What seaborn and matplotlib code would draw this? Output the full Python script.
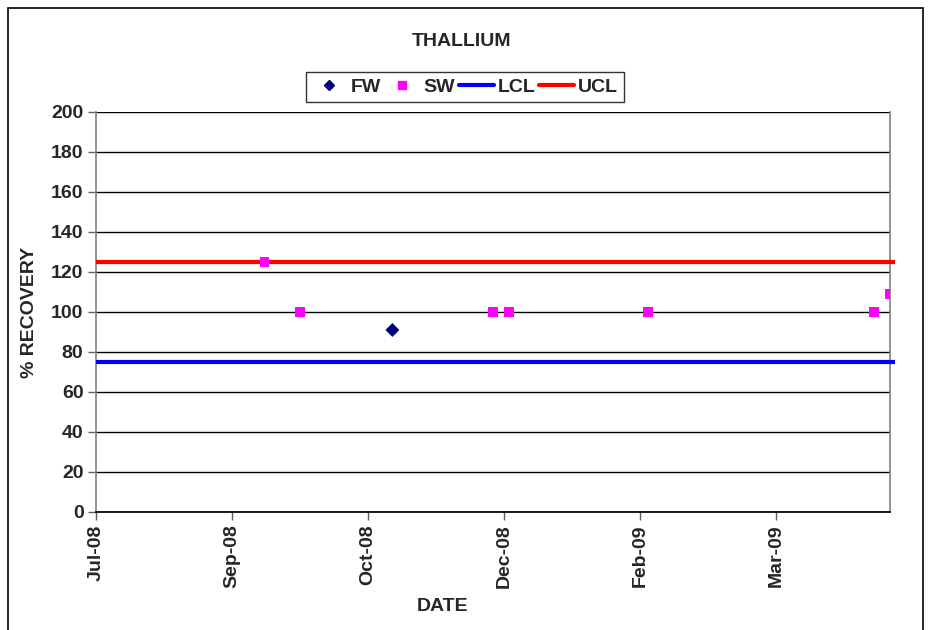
import matplotlib
matplotlib.use("Agg")
import matplotlib.pyplot as plt
import matplotlib.dates as mdates
import seaborn as sns
import pandas as pd
import numpy as np
from matplotlib.patches import Rectangle
from matplotlib.lines import Line2D

sns.set_theme(style="white")
plt.rcParams['font.family'] = ['Liberation Sans', 'DejaVu Sans']
plt.rcParams['font.weight'] = 'bold'
plt.rcParams['axes.labelweight'] = 'bold'

# Data
fw_dates = ["2008-11-06"]
fw_values = [91]
sw_dates = ["2008-09-20", "2008-10-03", "2008-12-13", "2008-12-19",
            "2009-02-08", "2009-05-02", "2009-05-08"]
sw_values = [125, 100, 100, 100, 100, 100, 109]
lcl_value = 75
ucl_value = 125
tick_dates = ["2008-07-20", "2008-09-08", "2008-10-28", "2008-12-17",
              "2009-02-05", "2009-03-27"]
x_start, x_end = "2008-07-20", "2009-05-08"

df = pd.DataFrame({
    "date": pd.to_datetime(fw_dates + sw_dates),
    "value": fw_values + sw_values,
    "series": ["FW"] * len(fw_dates) + ["SW"] * len(sw_dates),
})

FS = 14

fig = plt.figure(figsize=(9.34, 6.3), dpi=100)
ax = fig.add_axes([96/934, 118/630, (890-96)/934, 400/630])

# control limits
for val, col, lab in [(lcl_value, "#0000FF", "LCL"), (ucl_value, "#FF0000", "UCL")]:
    ax.plot(pd.to_datetime([x_start, "2009-05-10"]), [val, val], color=col, lw=3,
            label=lab, clip_on=False, zorder=3, solid_capstyle="butt")

sns.scatterplot(data=df, x="date", y="value", hue="series", style="series",
                markers={"FW": "D", "SW": "s"},
                palette={"FW": "#000080", "SW": "#FF00FF"},
                s=50, edgecolor="none", ax=ax, zorder=4, legend=False)

ax.set_xlim(pd.Timestamp(x_start), pd.Timestamp(x_end))
ax.set_ylim(0, 200)
ax.set_yticks(np.arange(0, 201, 20))
ax.set_xticks(pd.to_datetime(tick_dates))
ax.xaxis.set_major_formatter(mdates.DateFormatter("%b-%y"))
ax.yaxis.grid(True, color="black", lw=1)
ax.xaxis.grid(False)
ax.set_axisbelow(True)

for s in ["left", "right", "top"]:
    ax.spines[s].set_color("#808080")
    ax.spines[s].set_linewidth(1.2)
ax.spines["bottom"].set_color("black")
ax.spines["top"].set_visible(False)

ax.tick_params(axis="y", direction="out", length=6, width=1, color="#606060",
               labelsize=FS, pad=3, left=True)
ax.tick_params(axis="x", direction="out", length=6, width=1, color="#606060",
               labelsize=FS, pad=3, bottom=True, labelrotation=90)
for lab in ax.get_xticklabels() + ax.get_yticklabels():
    lab.set_fontweight("bold")

ax.set_xlabel("DATE", fontsize=FS, fontweight="bold")
ax.set_ylabel("% RECOVERY", fontsize=FS, fontweight="bold")
ax.xaxis.set_label_coords((443-96)/794, -(598-512)/400)
ax.yaxis.set_label_coords(-(96-38)/794, 0.5)

fig.text(461/934, 1-42/630, "THALLIUM", ha="center", va="center",
         fontsize=FS, fontweight="bold")

handles = [
    Line2D([], [], marker="D", color="#000080", ls="none", markersize=5),
    Line2D([], [], marker="s", color="#FF00FF", ls="none", markersize=6),
    Line2D([], [], color="#0000FF", lw=3),
    Line2D([], [], color="#FF0000", lw=3),
]
leg = fig.legend(handles, ["FW", "SW", "LCL", "UCL"], loc="center",
                 bbox_to_anchor=(465/934, 1-87/630), ncol=4, frameon=True,
                 fancybox=False, edgecolor="black",
                 handlelength=1.8, columnspacing=0.2, handletextpad=0.2,
                 borderpad=0.3, borderaxespad=0,
                 prop={"weight": "bold", "size": FS, "family": "Liberation Sans"})
leg.get_frame().set_linewidth(1)

fig.patches.append(Rectangle((8/934, -0.05), (923-8)/934, 1.05 - 8/630,
                             transform=fig.transFigure, fill=False,
                             edgecolor="black", lw=1.2))

fig.savefig("out.png", dpi=100)
